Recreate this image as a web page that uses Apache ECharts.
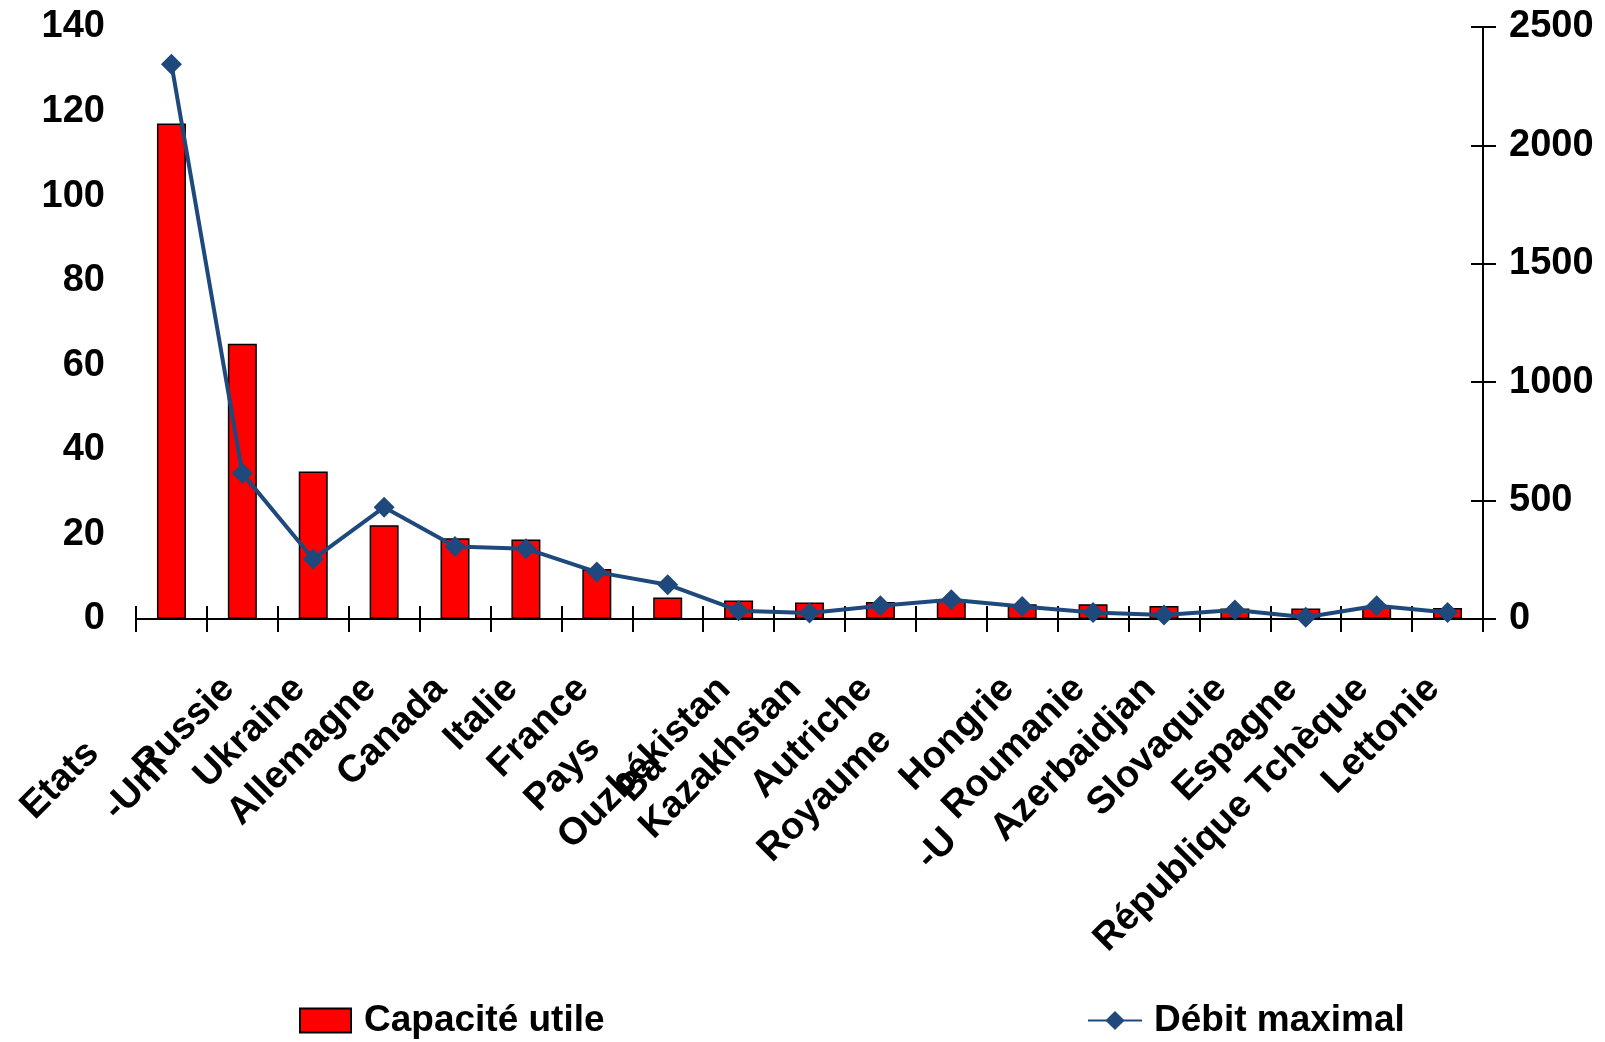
<!DOCTYPE html>
<html>
<head>
<meta charset="utf-8">
<script src="https://cdn.jsdelivr.net/npm/echarts@6/dist/echarts.min.js"></script>
<style>
  html, body { margin: 0; padding: 0; background: #ffffff; }
  #chart { width: 1605px; height: 1042px; }
</style>
</head>
<body>
<div id="chart"></div>
<script>
// Countries, in chart order
const countries = ['Etats-Unis', 'Russie', 'Ukraine', 'Allemagne', 'Canada', 'Italie', 'France',
  'Pays-Bas', 'Ouzbékistan', 'Kazakhstan', 'Autriche', 'Royaume-Uni', 'Hongrie', 'Roumanie',
  'Azerbaidjan', 'Slovaquie', 'Espagne', 'République Tchèque', 'Lettonie'];

// Capacité utile (left axis)
const capaciteUtile = [117.2, 65.1, 34.9, 22.2, 19.1, 18.8, 11.8, 5.1, 4.4, 3.9, 4.0, 4.4, 3.5, 3.5, 3.1, 2.5, 2.5, 2.9, 2.6];

// Débit maximal (right axis)
const debitMaximal = [2343, 615, 253, 472, 306, 297, 198, 145, 35, 25, 56, 81, 53, 27, 17, 38, 7, 56, 27];

// Axis scales
const leftAxisTicks = [0, 20, 40, 60, 80, 100, 120, 140];
const rightAxisTicks = [0, 500, 1000, 1500, 2000, 2500];

// Names that wrap onto two lines under the axis
const wrappedNames = {
  'Etats-Unis': ['Etats', '-Unis'],
  'Pays-Bas': ['Pays', 'Bas'],
  'Royaume-Uni': ['Royaume', '-Uni']
};

const FONT = '"Liberation Sans", Arial, Helvetica, sans-serif';
const INK = '#000000';
const BLUE = '#1F497D';

// Placement of the first wrapped line
const firstLineStyle = {
  'Etats-Unis': { padding: [0, 111, 0, 0] },
  'Pays-Bas': { padding: [0, 104, 0, 0] },
  'Royaume-Uni': { padding: [0, 93, 0, 0] }
};
// Second wrapped line: which label row it sits on, its inset, and how much of it
// shows before the neighbouring slot cuts it off
const secondLineStyle = {
  'Etats-Unis': { row: 0, padding: [0, 13, 0, 0], chars: 4 },
  'Pays-Bas': { row: 0, padding: [0, 12, 0, 0], chars: 2 },
  'Royaume-Uni': { row: 1, padding: [0, 0, 0, 0], chars: 2 }
};
const secondLineMargins = [134, 216];

const mainAxisData = countries.map(c => firstLineStyle[c] ? { value: c, textStyle: firstLineStyle[c] } : c);
const wrapRowData = row => countries.map(c => (secondLineStyle[c] && secondLineStyle[c].row === row)
  ? { value: c, textStyle: { padding: secondLineStyle[c].padding } }
  : c);
const wrapRowText = row => v => (secondLineStyle[v] && secondLineStyle[v].row === row)
  ? wrappedNames[v][1].slice(0, secondLineStyle[v].chars) : '';

const labelFont = { fontFamily: FONT, fontWeight: 'bold', fontSize: 38, color: INK };
const axisInk = { color: INK, width: 2 };

const chart = echarts.init(document.getElementById('chart'), null, { renderer: 'canvas' });

chart.setOption({
  animation: false,
  backgroundColor: '#ffffff',
  grid: { left: 136, right: 122, top: 27, bottom: 423, containLabel: false, outerBoundsMode: 'none' },
  legend: [
    {
      data: ['Capacité utile'], left: 299, top: 1002, padding: 0,
      icon: 'rect', itemWidth: 51, itemHeight: 24,
      textStyle: Object.assign({}, labelFont, { fontSize: 37, padding: [0, 0, 0, 8] })
    },
    {
      data: ['Débit maximal'], left: 1087, top: 1002, padding: 0,
      itemWidth: 54, itemHeight: 24,
      textStyle: Object.assign({}, labelFont, { fontSize: 37, padding: [0, 0, 0, 7] })
    }
  ],
  xAxis: [
    {
      type: 'category', data: mainAxisData, position: 'bottom',
      axisLine: { show: true, lineStyle: axisInk },
      axisTick: { show: true, length: 13, lineStyle: axisInk },
      splitLine: { show: false },
      axisLabel: Object.assign({}, labelFont, {
        interval: 0, rotate: 45, margin: 50, padding: [0, 20, 0, 0],
        formatter: v => wrappedNames[v] ? wrappedNames[v][0] : v
      })
    },
    {
      type: 'category', data: wrapRowData(0), position: 'bottom',
      axisLine: { show: false },
      axisTick: { show: true, inside: true, length: 13, lineStyle: axisInk },
      splitLine: { show: false },
      axisLabel: Object.assign({}, labelFont, {
        interval: 0, rotate: 45, margin: secondLineMargins[0], formatter: wrapRowText(0)
      })
    },
    {
      type: 'category', data: wrapRowData(1), position: 'bottom',
      axisLine: { show: false },
      axisTick: { show: false },
      splitLine: { show: false },
      axisLabel: Object.assign({}, labelFont, {
        interval: 0, rotate: 45, margin: secondLineMargins[1], formatter: wrapRowText(1)
      })
    }
  ],
  yAxis: [
    {
      type: 'value', position: 'left',
      min: leftAxisTicks[0], max: leftAxisTicks[leftAxisTicks.length - 1],
      interval: leftAxisTicks[1] - leftAxisTicks[0],
      axisLine: { show: false }, axisTick: { show: false }, splitLine: { show: false },
      axisLabel: Object.assign({}, labelFont, { margin: 31 })
    },
    {
      type: 'value', position: 'right',
      min: rightAxisTicks[0], max: rightAxisTicks[rightAxisTicks.length - 1],
      interval: rightAxisTicks[1] - rightAxisTicks[0],
      axisLine: { show: true, lineStyle: axisInk },
      axisTick: { show: true, length: 13, lineStyle: axisInk },
      splitLine: { show: false },
      axisLabel: Object.assign({}, labelFont, { margin: 26, formatter: v => String(v) })
    },
    {
      type: 'value', position: 'right',
      min: rightAxisTicks[0], max: rightAxisTicks[rightAxisTicks.length - 1],
      interval: rightAxisTicks[1] - rightAxisTicks[0],
      axisLine: { show: false },
      axisTick: { show: true, inside: true, length: 12, lineStyle: axisInk },
      splitLine: { show: false },
      axisLabel: { show: false }
    }
  ],
  series: [
    {
      name: 'Capacité utile', type: 'bar', xAxisIndex: 0, yAxisIndex: 0,
      data: capaciteUtile, barWidth: 29,
      itemStyle: { color: '#FF0000', borderColor: INK, borderWidth: 1.5 }
    },
    {
      name: 'Débit maximal', type: 'line', xAxisIndex: 0, yAxisIndex: 1,
      data: debitMaximal, symbol: 'diamond', symbolSize: 21, z: 5,
      lineStyle: { color: BLUE, width: 4 },
      itemStyle: { color: BLUE }
    }
  ]
});
</script>
</body>
</html>
